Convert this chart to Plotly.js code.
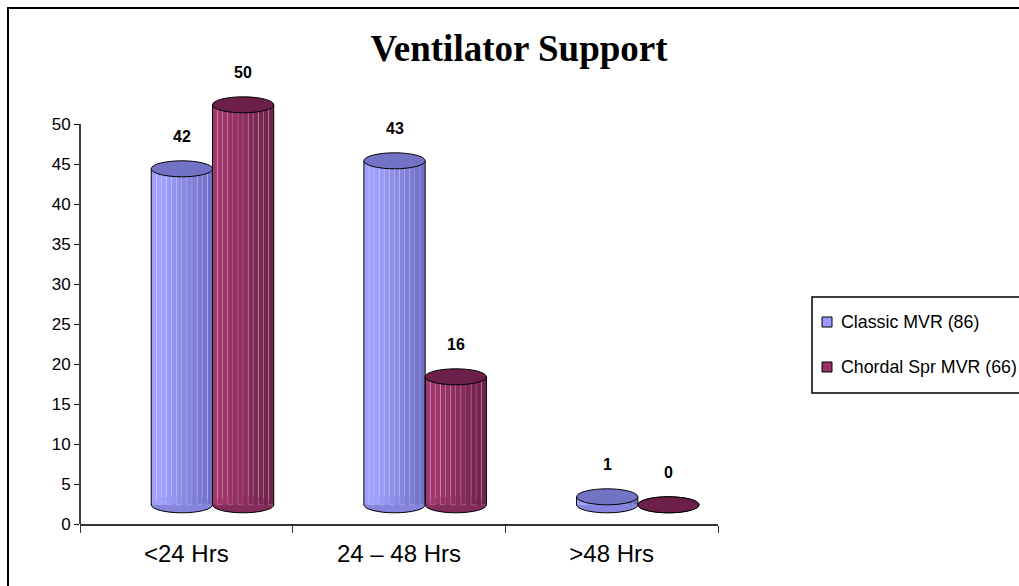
<!DOCTYPE html>
<html>
<head>
<meta charset="utf-8">
<script src="https://cdn.plot.ly/plotly-3.0.1.min.js"></script>
<style>
  html, body { margin: 0; padding: 0; background: #fff; overflow: hidden; }
  #chart { width: 1100px; height: 586px; }
</style>
</head>
<body>
<div id="chart"></div>
<script>
// Ventilator support duration by surgical technique
const categories = ['<24 Hrs', '24 – 48 Hrs', '>48 Hrs'];
const classicValues = [42, 43, 1];
const chordalValues = [50, 16, 0];
const seriesNames = ['Classic MVR (86)', 'Chordal Spr MVR (66)'];
const yTickValues = [0, 5, 10, 15, 20, 25, 30, 35, 40, 45, 50];

// Page geometry (pixels) of the plotting area
const W = 1100, H = 586;
const PL = 80, PR = 718, PT = 84, PB = 524;
const toPaperX = px => (px - PL) / (PR - PL);
const toPaperY = py => (PB - py) / (PB - PT);

// 3D cylinder styling: floor lift, cap half-height, slice count
const BASE = 2.4;
const CAP = 1.0;
const SLICES = 12;

const series = [
  {
    name: seriesNames[0], values: classicValues, offset: -0.165, width: 0.288,
    light: [160, 160, 255], dark: [112, 112, 198], cap: '#7373c6', bottom: '#8585de', key: '#9999ff'
  },
  {
    name: seriesNames[1], values: chordalValues, offset: 0.123, width: 0.288,
    light: [160, 54, 108], dark: [112, 34, 74], cap: '#6c2049', bottom: '#842c5c', key: '#993366'
  }
];

function mix(a, b, t) {
  const c = a.map((v, i) => Math.round(v + (b[i] - v) * t));
  return 'rgb(' + c.join(',') + ')';
}

const traces = [];
const shapes = [];
const annotations = [];

series.forEach(s => {
  const sw = s.width / SLICES;
  // vertical slices give the shaded cylinder body
  for (let k = 0; k < SLICES; k++) {
    const t = k / (SLICES - 1);
    const shade = Math.min(1, Math.max(0, (t - 0.15) / 0.85));
    traces.push({
      type: 'bar',
      x: categories,
      y: s.values,
      base: s.values.map(() => BASE),
      offset: s.offset + k * sw,
      width: sw,
      marker: {
        color: mix(s.light, s.dark, shade),
        line: { width: (k % 2 === 1) ? 0.6 : 0, color: 'rgba(255,255,255,0.35)' }
      },
      hoverinfo: 'skip',
      showlegend: false
    });
  }
  s.values.forEach((v, i) => {
    const x0 = i + s.offset, x1 = i + s.offset + s.width;
    const top = BASE + v;
    // rounded floor of the cylinder
    shapes.push({
      type: 'circle', xref: 'x', yref: 'y', layer: 'below',
      x0: x0, x1: x1, y0: BASE - CAP, y1: BASE + CAP,
      fillcolor: s.bottom, line: { color: '#000', width: 1 }
    });
    if (v > 0) {
      [x0, x1].forEach(xe => shapes.push({
        type: 'line', xref: 'x', yref: 'y',
        x0: xe, x1: xe, y0: BASE, y1: top,
        line: { color: '#000', width: 1 }
      }));
    }
    // top cap
    shapes.push({
      type: 'circle', xref: 'x', yref: 'y',
      x0: x0, x1: x1, y0: top - CAP, y1: top + CAP,
      fillcolor: s.cap, line: { color: '#000', width: 1 }
    });
    annotations.push({
      x: i + s.offset + s.width / 2, y: top, xref: 'x', yref: 'y',
      yshift: 32, showarrow: false, text: '<b>' + v + '</b>',
      font: { family: 'Liberation Sans, Arial, sans-serif', size: 16, color: '#000' }
    });
  });
});

// value axis line, drawn only up to the last tick
shapes.push({
  type: 'line', xref: 'paper', yref: 'y', x0: 0, x1: 0, y0: 0, y1: 50,
  line: { color: '#000', width: 1.5 }
});

// outer frame
shapes.push({
  type: 'rect', xref: 'paper', yref: 'paper',
  x0: toPaperX(8), x1: toPaperX(1095), y0: toPaperY(600), y1: toPaperY(8),
  line: { color: '#000', width: 2 }, fillcolor: 'rgba(0,0,0,0)'
});

// legend box with keys and labels
shapes.push({
  type: 'rect', xref: 'paper', yref: 'paper',
  x0: toPaperX(812), x1: toPaperX(1090), y0: toPaperY(393), y1: toPaperY(297),
  line: { color: '#000', width: 1.5 }, fillcolor: 'rgba(0,0,0,0)'
});
const legendRows = [322, 367];
series.forEach((s, j) => {
  const cy = legendRows[j];
  shapes.push({
    type: 'rect', xref: 'paper', yref: 'paper',
    x0: toPaperX(822), x1: toPaperX(832), y0: toPaperY(cy + 5), y1: toPaperY(cy - 5),
    fillcolor: s.key, line: { color: '#000', width: 1 }
  });
  annotations.push({
    xref: 'paper', yref: 'paper', x: toPaperX(839), y: toPaperY(cy),
    xanchor: 'left', yanchor: 'middle', showarrow: false, text: s.name,
    font: { family: 'Liberation Sans, Arial, sans-serif', size: 17.8, color: '#000' }
  });
});

const layout = {
  width: W, height: H,
  margin: { l: PL, r: W - PR, t: PT, b: H - PB, pad: 0 },
  paper_bgcolor: '#fff', plot_bgcolor: '#fff',
  showlegend: false,
  barmode: 'overlay',
  title: {
    text: '<b>Ventilator Support</b>',
    font: { family: 'Liberation Serif, Times New Roman, serif', size: 37, color: '#000' },
    xref: 'container', yref: 'container',
    x: 519 / W, xanchor: 'center', y: 1 - 48 / H, yanchor: 'middle'
  },
  xaxis: {
    type: 'category', categoryorder: 'array', categoryarray: categories,
    range: [-0.5, 2.5], fixedrange: true,
    showline: true, linecolor: '#333', linewidth: 1.5,
    ticks: 'outside', tickson: 'boundaries', ticklen: 7, tickcolor: '#333', tickwidth: 1,
    ticklabelstandoff: 8,
    showgrid: false, zeroline: false,
    tickfont: { family: 'Liberation Sans, Arial, sans-serif', size: 24, color: '#000' }
  },
  yaxis: {
    range: [0, 55], fixedrange: true,
    tickmode: 'array', tickvals: yTickValues, ticktext: yTickValues.map(String),
    showline: false, showgrid: false, zeroline: false,
    ticks: 'outside', ticklen: 5, tickcolor: '#000', tickwidth: 1,
    tickfont: { family: 'Liberation Sans, Arial, sans-serif', size: 17, color: '#000' }
  },
  shapes: shapes,
  annotations: annotations
};

Plotly.newPlot('chart', traces, layout, { displayModeBar: false, staticPlot: true });
</script>
</body>
</html>
